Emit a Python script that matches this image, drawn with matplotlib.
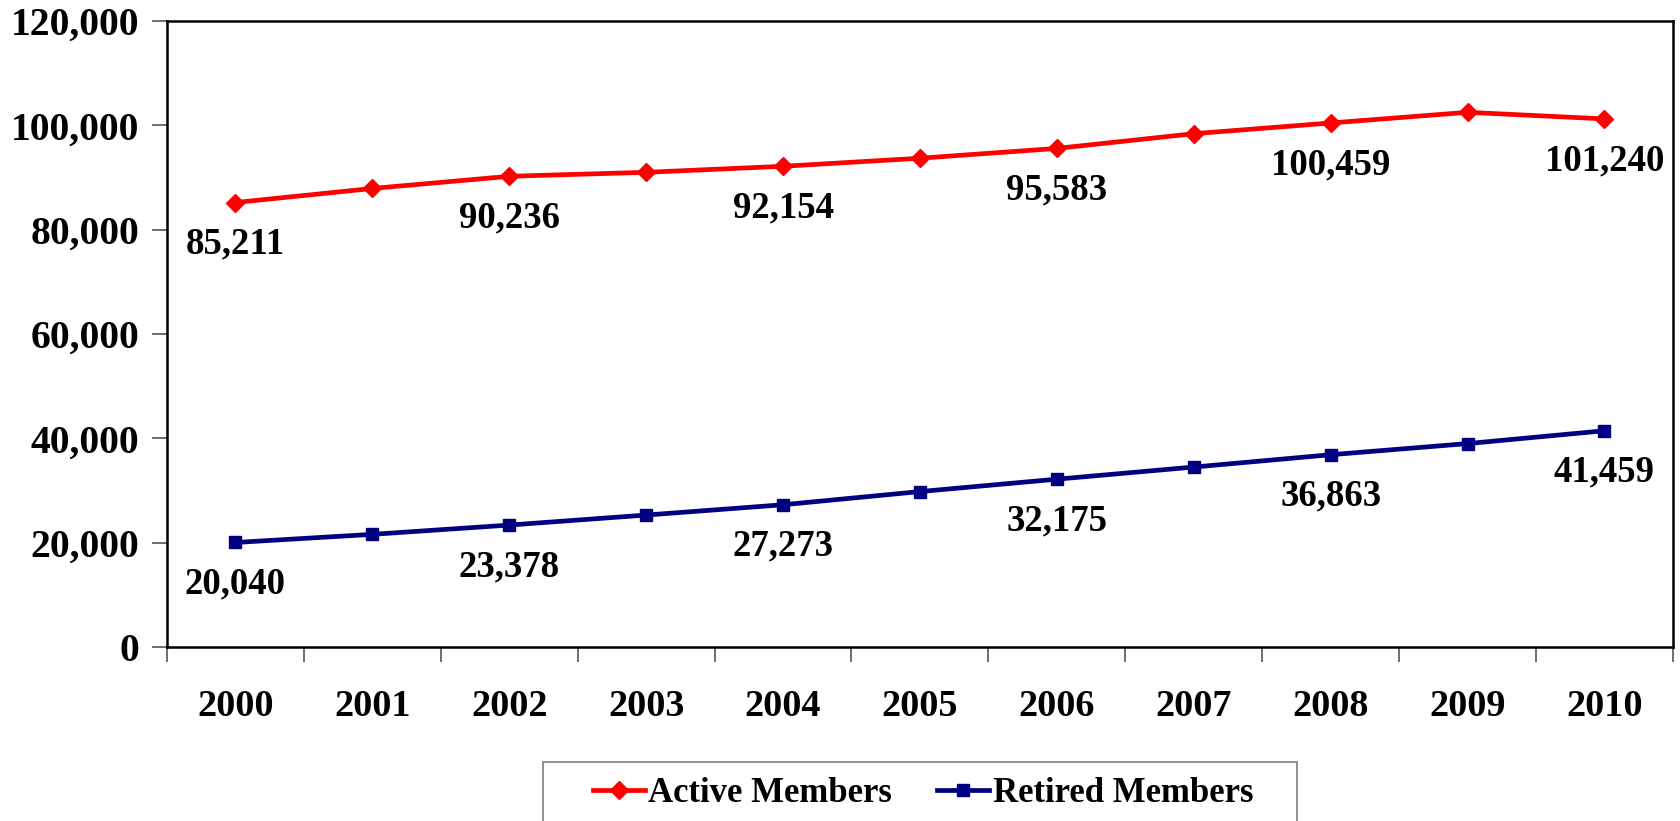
import matplotlib
matplotlib.use("Agg")
import matplotlib.pyplot as plt
from matplotlib.patches import Rectangle
from matplotlib.ticker import FuncFormatter

years = ["2000", "2001", "2002", "2003", "2004", "2005",
         "2006", "2007", "2008", "2009", "2010"]
active = [85211, 87900, 90236, 91000, 92154, 93700,
          95583, 98400, 100459, 102500, 101240]
retired = [20040, 21600, 23378, 25300, 27273, 29800,
           32175, 34500, 36863, 39000, 41459]
# only every other year carries a value label
labelled = [0, 2, 4, 6, 8, 10]

plt.rcParams['font.family'] = ['Liberation Serif', 'DejaVu Serif']
plt.rcParams['font.weight'] = 'bold'

fig = plt.figure(figsize=(16.81, 8.21), dpi=100)
ax = fig.add_axes([0.0993, 0.2119, 0.8959, 0.7625])

x = list(range(len(years)))
ax.plot(x, active, color='#FF0000', lw=3.4, marker='D', ms=9.5,
        label='Active Members', clip_on=False, zorder=3)
ax.plot(x, retired, color='#000080', lw=3.4, marker='s', ms=8,
        label='Retired Members', clip_on=False, zorder=3)

for series in (active, retired):
    for i in labelled:
        ax.annotate(f"{series[i]:,}", (x[i], series[i]), xytext=(0, -30),
                    textcoords='offset points', ha='center', va='center',
                    fontsize=26.5, fontweight='bold')

ax.set_xlim(-0.5, len(years) - 0.5)
ax.set_ylim(0, 120000)
ax.set_yticks(range(0, 120001, 20000))
ax.yaxis.set_major_formatter(FuncFormatter(lambda v, p: f"{int(v):,}"))

# category ticks sit between the years, labels centred under each year
ax.set_xticks([i - 0.5 for i in range(len(years) + 1)])
ax.set_xticklabels([])
ax.set_xticks(x, minor=True)
ax.set_xticklabels(years, minor=True)
ax.tick_params(axis='x', which='minor', length=0, pad=30, labelsize=27.5)
ax.tick_params(axis='x', which='major', length=11, width=1.2, color='#555555', direction='out')
ax.tick_params(axis='y', length=11, width=1.2, color='#555555', direction='out',
               labelsize=28.5, pad=9)
for lab in ax.get_xticklabels(minor=True) + ax.get_yticklabels():
    lab.set_fontweight('bold')

for s in ax.spines.values():
    s.set_linewidth(1.8)
    s.set_color('black')

# legend box runs past the bottom edge of the image, so draw the frame separately
fig.patches.append(Rectangle((543 / 1681, -0.05), (1297 - 543) / 1681, 0.05 + 1 - 762 / 821,
                             transform=fig.transFigure, fill=False,
                             edgecolor='#7f7f7f', linewidth=1.2))
leg = fig.legend(loc='center', bbox_to_anchor=(0.549, 0.033), ncol=2,
                 fontsize=25, frameon=False, handlelength=1.5,
                 handletextpad=0.1, columnspacing=1.3, borderpad=0.2,
                 borderaxespad=0)
for t in leg.get_texts():
    t.set_fontweight('bold')

fig.savefig("out.png", dpi=100)
